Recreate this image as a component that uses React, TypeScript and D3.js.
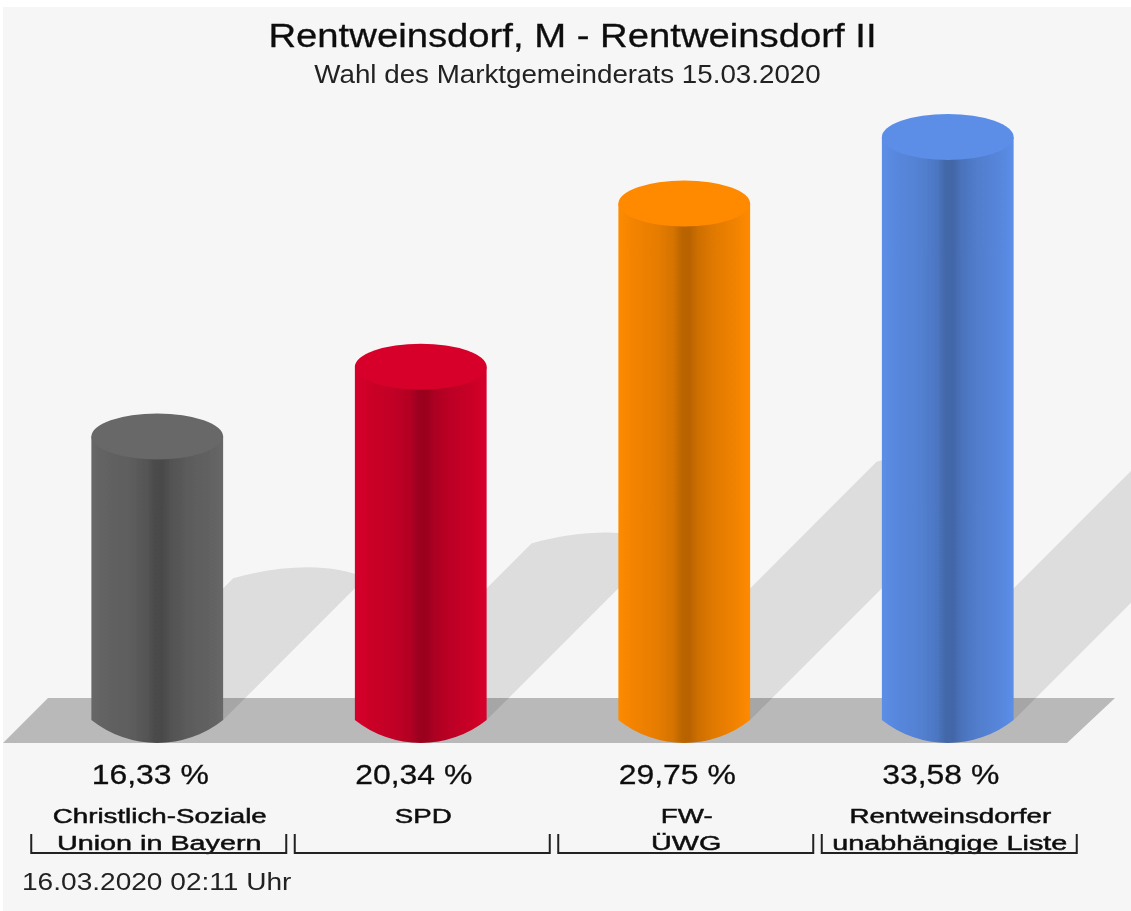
import React from 'react';
import * as d3 from 'd3';

const title = 'Rentweinsdorf, M - Rentweinsdorf II';
const subtitle = 'Wahl des Marktgemeinderats 15.03.2020';
const stamp = '16.03.2020 02:11 Uhr';

// party names, one entry per bar, split the way the picture wraps them
const parties = ['CSU', 'SPD', 'FW', 'RUL'];
const nameLine1 = ['Christlich-Soziale', 'SPD', 'FW-', 'Rentweinsdorfer'];
const nameLine2 = ['Union in Bayern', '', 'ÜWG', 'unabhängige Liste'];
const shares = [16.33, 20.34, 29.75, 33.58];
const shareLabels = ['16,33 %', '20,34 %', '29,75 %', '33,58 %'];
const barColors = ['#676767', '#d6002a', '#ff8a00', '#5c8ee8'];

const W = 1131;
const H = 911;
const FONT = '"Liberation Sans", Arial, sans-serif';

const baseY = 720;
const capRy = 23;

const x = d3.scaleBand<string>().domain(parties).range([25.5, 1079.5]).paddingInner(0.5).paddingOuter(0.25);
const y = d3.scaleLinear().domain([0, 33.58]).range([baseY, 137]);

// how far each stop of the side gradient goes towards black
const sideStops: [number, number][] = [
  [0, 0],
  [0.12, 0.05],
  [0.3, 0.1],
  [0.42, 0.17],
  [0.48, 0.27],
  [0.54, 0.28],
  [0.6, 0.2],
  [0.72, 0.12],
  [0.88, 0.06],
  [1, 0],
];

function cylinderPath(cx: number, rx: number, top: number) {
  // the foot is a shallow arc with real corners, not a half ellipse
  const r = (rx * rx + capRy * capRy) / (2 * capRy);
  return `M${cx - rx},${top} V${baseY} A${r},${r} 0 0 0 ${cx + rx},${baseY} V${top} Z`;
}

// falling shadow: half as long as the bar is high, going up right at 45 degrees
function shadowPath(cx: number, rx: number, top: number) {
  const shift = (baseY - top) / 2;
  const l = cx - rx + shift;
  const r = cx + rx + shift;
  const t = baseY - shift;
  return `M${cx - rx},${baseY} L${l},${t} C${l + 50},${t - 14} ${r - 30},${t - 15} ${r},${t} L${cx + rx},${baseY} Z`;
}

// the source image is stretched sideways, so text is scaled in x around its anchor
function Stretched({ x: tx, y: ty, sx, anchor = 'middle', children, ...rest }: any) {
  return (
    <text transform={`translate(${tx},${ty}) scale(${sx},1)`} textAnchor={anchor} {...rest}>
      {children}
    </text>
  );
}

export default function App() {
  const bw = x.bandwidth();
  const rx = bw / 2;
  const cx = (p: string) => (x(p) as number) + rx;
  const bracketHalf = 127.5;

  return (
    <svg
      width={W}
      height={H}
      viewBox={`0 0 ${W} ${H}`}
      style={{ position: 'absolute', left: 0, top: 0, background: '#fff' }}
    >
      <defs>
        {parties.map((p, i) => (
          <linearGradient key={p} id={`side-${p}`} x1="0" x2="1" y1="0" y2="0">
            {sideStops.map(([o, t]) => (
              <stop key={o} offset={o} stopColor={d3.interpolateRgb(barColors[i], '#000')(t)} />
            ))}
          </linearGradient>
        ))}
        <filter id="soft" filterUnits="userSpaceOnUse" x={0} y={0} width={W} height={H}>
          <feGaussianBlur stdDeviation={0.6} />
        </filter>
      </defs>

      <g filter="url(#soft)">
        <rect x={3} y={7} width={W} height={H} fill="#f6f6f6" />

        {/* floor */}
        <path d="M3,743 L48,698 H1115 L1067,743 Z" fill="#b9b9b9" />

        {parties.map((p, i) => (
          <path key={p} d={shadowPath(cx(p), rx, y(shares[i]))} fill="#000" fillOpacity={0.1} />
        ))}

        {parties.map((p, i) => {
          const top = y(shares[i]);
          return (
            <g key={p}>
              <path d={cylinderPath(cx(p), rx, top)} fill={`url(#side-${p})`} />
              <ellipse cx={cx(p)} cy={top} rx={rx} ry={capRy} fill={barColors[i]} />
            </g>
          );
        })}

        <g fontFamily={FONT} fill="#111">
          <Stretched x={572.5} y={47} sx={1.16} fontSize={33} stroke="#111" strokeWidth={0.3}>{title}</Stretched>
          <Stretched x={567.5} y={83} sx={1.11} fontSize={25} fill="#222">{subtitle}</Stretched>
          {parties.map((p, i) => (
            <g key={p}>
              <Stretched x={cx(p) - 7} y={784} sx={1.14} fontSize={28} stroke="#111" strokeWidth={0.3}>
                {shareLabels[i]}
              </Stretched>
              <Stretched x={cx(p) + 2.5} y={823} sx={1.32} fontSize={21} stroke="#111" strokeWidth={0.5}>
                {nameLine1[i]}
              </Stretched>
              <Stretched x={cx(p) + 2} y={850} sx={1.37} fontSize={21} stroke="#111" strokeWidth={0.5}>
                {nameLine2[i]}
              </Stretched>
              <path
                d={`M${cx(p) + 1.5 - bracketHalf},834 V853 H${cx(p) + 1.5 + bracketHalf} V834`}
                fill="none"
                stroke="#222"
                strokeWidth={2}
              />
            </g>
          ))}
          <Stretched x={22} y={890} sx={1.17} anchor="start" fontSize={24} fill="#222">{stamp}</Stretched>
        </g>
      </g>
    </svg>
  );
}
